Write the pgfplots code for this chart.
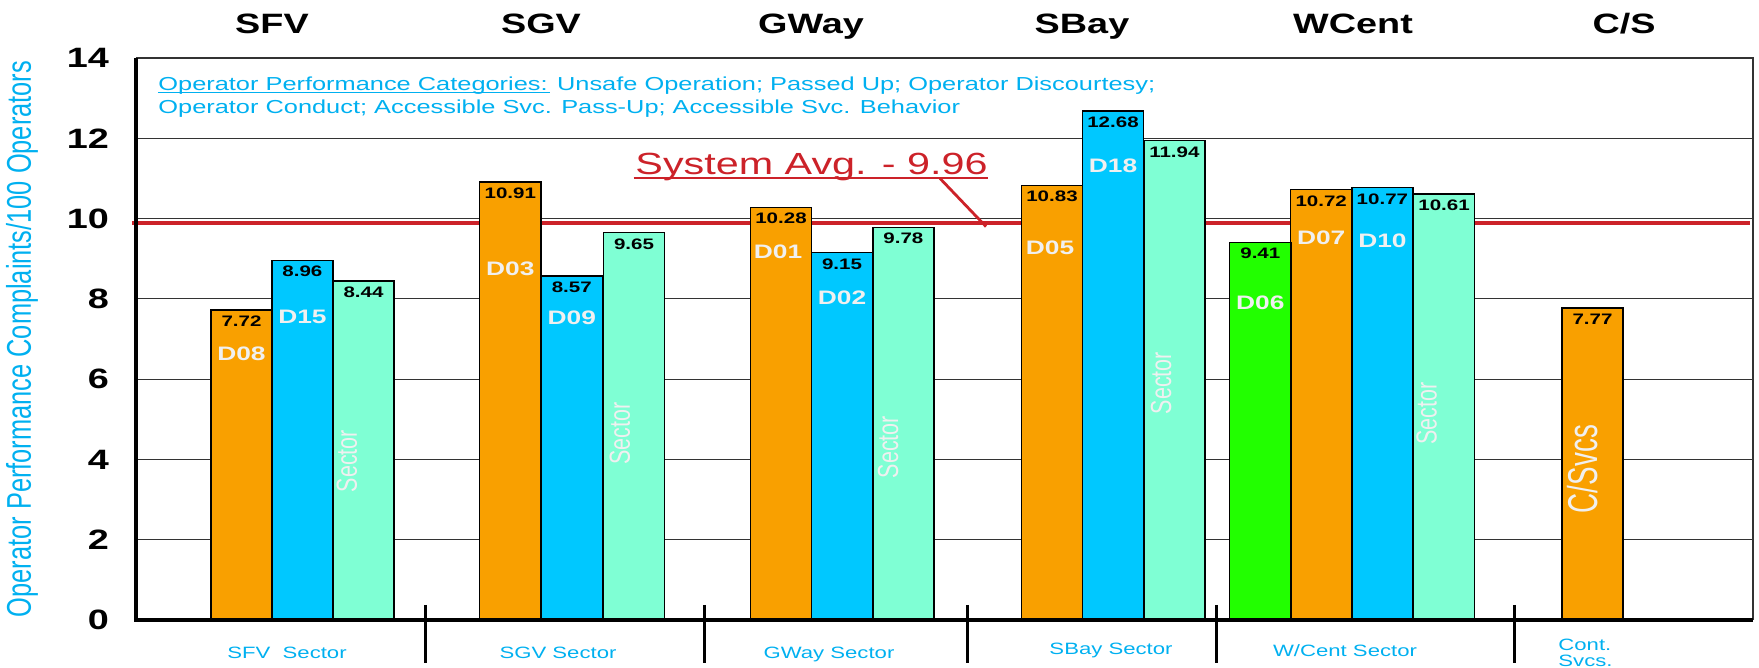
\documentclass[border=0pt]{standalone}
\usepackage{fontspec}
\setmainfont{Liberation Sans}
\usepackage{graphicx}
\usepackage{pgfplots}
\pgfplotsset{compat=1.18}
\pgfkeys{/pgf/number format/assume math mode=true}
\definecolor{barorange}{RGB}{249,160,0}
\definecolor{barblue}{RGB}{0,200,255}
\definecolor{baraqua}{RGB}{127,255,212}
\definecolor{bargreen}{RGB}{34,255,0}
\definecolor{txtcyan}{RGB}{0,176,240}
\definecolor{avgred}{RGB}{204,34,41}
\definecolor{lbl}{RGB}{240,240,240}
\newcommand{\hs}[1]{\scalebox{1.35}[1]{#1}}
\newcommand{\vs}[1]{\scalebox{1}[1.35]{#1}}
\pgfplotsset{
  valbar/.style={ybar, bar width=61.2, bar shift=0pt, draw=black, line width=0.7pt,
    nodes near coords={\hs{\pgfmathprintnumber[fixed,fixed zerofill,precision=2,assume math mode=true]{\pgfplotspointmeta}}},
    nodes near coords align={anchor=north},
    every node near coord/.append style={anchor=north, text=black, inner ysep=2.6pt,
      font=\fontsize{7.6}{8}\bfseries\selectfont}},
}
\begin{document}
\begin{tikzpicture}
\begin{axis}[
  scale only axis, width=808.5pt, height=281pt,
  xmin=136, xmax=1753, ymin=0, ymax=14,
  clip=false,
  axis line style={draw=none},
  xtick=\empty,
  ytick={0,2,...,14},
  major tick length=0pt,
  ymajorgrids, grid style={black!80, line width=0.55pt},
  /pgf/number format/assume math mode=true,
  yticklabel={\hs{\fontsize{14}{16}\bfseries\selectfont\pgfmathprintnumber[assume math mode=true]{\tick}}},
  yticklabel style={xshift=-10pt},
]
\coordinate (bl) at (rel axis cs:0,0);
% system average line (behind bars)
\addplot[forget plot, draw=avgred, line width=2pt] coordinates {(132,9.89) (1750,9.89)};
% bars
\addplot[valbar, fill=barorange] coordinates {(241.5,7.72) (510.3,10.91) (781,10.28) (1052,10.83) (1321.2,10.72) (1592.5,7.77)};
\addplot[valbar, fill=barblue] coordinates {(302.4,8.96) (571.8,8.57) (842,9.15) (1113,12.68) (1382.4,10.77)};
\addplot[valbar, fill=baraqua] coordinates {(363.5,8.44) (634,9.65) (903.4,9.78) (1174.4,11.94) (1444,10.61)};
\addplot[valbar, fill=bargreen] coordinates {(1260.3,9.41)};
% axis frame
\draw[black!80, line width=0.55pt] (rel axis cs:0,1) -- (rel axis cs:1,1) -- (rel axis cs:1,0);
\draw[black, line width=2pt] (rel axis cs:0,1) -- (rel axis cs:0,0) -- (rel axis cs:1,0);
% group separators
\draw[black, line width=1.5pt] (axis cs:425,0.374) -- (axis cs:425,-1.07);
\draw[black, line width=1.5pt] (axis cs:704,0.374) -- (axis cs:704,-1.07);
\draw[black, line width=1.5pt] (axis cs:967,0.374) -- (axis cs:967,-1.07);
\draw[black, line width=1.5pt] (axis cs:1216,0.374) -- (axis cs:1216,-1.07);
\draw[black, line width=1.5pt] (axis cs:1514,0.374) -- (axis cs:1514,-1.07);
% top labels
\begin{scope}[every node/.style={anchor=base, font=\fontsize{14}{16}\bfseries\selectfont, inner sep=0pt}]
\node at (axis cs:272,14.62) {\hs{SFV}};
\node at (axis cs:541,14.62) {\hs{SGV}};
\node at (axis cs:811,14.62) {\hs{GWay}};
\node at (axis cs:1082,14.62) {\hs{SBay}};
\node at (axis cs:1353,14.62) {\hs{WCent}};
\node at (axis cs:1624,14.62) {\hs{C/S}};
\end{scope}
% bottom labels
\begin{scope}[every node/.style={anchor=base, text=txtcyan, font=\fontsize{8.2}{9}\selectfont, inner sep=0pt}]
\node at (axis cs:287,-0.97) {\hs{SFV\ \ Sector}};
\node at (axis cs:558,-0.95) {\hs{SGV Sector}};
\node at (axis cs:829,-0.95) {\hs{GWay Sector}};
\node at (axis cs:1111,-0.87) {\hs{SBay Sector}};
\node at (axis cs:1345,-0.92) {\hs{W/Cent Sector}};
\node[anchor=base west] at (axis cs:1558,-0.75) {\hs{Cont.}};
\node[anchor=base west] at (axis cs:1558,-1.17) {\hs{Svcs.}};
\end{scope}
% inner district labels
\begin{scope}[every node/.style={text=lbl, font=\fontsize{9.75}{11}\bfseries\selectfont, inner sep=0pt}]
\node at (axis cs:241.5,6.63) {\hs{D08}};
\node at (axis cs:302.4,7.54) {\hs{D15}};
\node at (axis cs:510.3,8.74) {\hs{D03}};
\node at (axis cs:571.8,7.54) {\hs{D09}};
\node at (axis cs:778,9.16) {\hs{D01}};
\node at (axis cs:842,8.03) {\hs{D02}};
\node at (axis cs:1050,9.28) {\hs{D05}};
\node at (axis cs:1113,11.32) {\hs{D18}};
\node at (axis cs:1260.3,7.91) {\hs{D06}};
\node at (axis cs:1321.2,9.53) {\hs{D07}};
\node at (axis cs:1382.4,9.45) {\hs{D10}};
\end{scope}
\begin{scope}[every node/.style={rotate=90, text=lbl, font=\fontsize{10.75}{12}\selectfont, inner sep=0pt}]
\node at (axis cs:347,3.96) {\vs{Sector}};
\node at (axis cs:620,4.65) {\vs{Sector}};
\node at (axis cs:888,4.31) {\vs{Sector}};
\node at (axis cs:1161,5.90) {\vs{Sector}};
\node at (axis cs:1426.5,5.14) {\vs{Sector}};
\node[font=\fontsize{13.9}{15}\selectfont] at (axis cs:1583,3.76) {\scalebox{1}[1.5]{C/Svcs}};
\end{scope}
% categories note
\node[anchor=base west, text=txtcyan, font=\fontsize{9.4}{11}\selectfont, inner sep=0pt] at (axis cs:158,13.19)
  {\hs{Operator Performance Categories: Unsafe Operation; Passed Up; Operator Discourtesy;}};
\draw[txtcyan, line width=0.6pt] (axis cs:158,13.14) -- (axis cs:550,13.14);
\node[anchor=base west, text=txtcyan, font=\fontsize{9.4}{11}\selectfont, inner sep=0pt] at (axis cs:158,12.62)
  {\hs{Operator Conduct; Accessible Svc. Pass-Up; Accessible Svc. Behavior}};
% system average annotation
\node[anchor=base, text=avgred, font=\fontsize{15.3}{17}\selectfont, inner sep=0pt] at (axis cs:811.5,11.09) {\hs{System Avg. - 9.96}};
\draw[avgred, line width=1pt] (axis cs:633.6,11.0) -- (axis cs:987.6,11.0);
\draw[avgred, line width=1.4pt] (axis cs:940,11.0) -- (axis cs:986,9.8);
% y label
\node[rotate=90, text=txtcyan, font=\fontsize{12.7}{14}\selectfont, inner sep=0pt] at (axis cs:22,7.0)
  {\vs{Operator Performance Complaints/100 Operators}};
\end{axis}
\pgfresetboundingbox
\path[use as bounding box] (bl) ++(-68pt,-24pt) rectangle ++(879.5pt,334pt);
\end{tikzpicture}
\end{document}
